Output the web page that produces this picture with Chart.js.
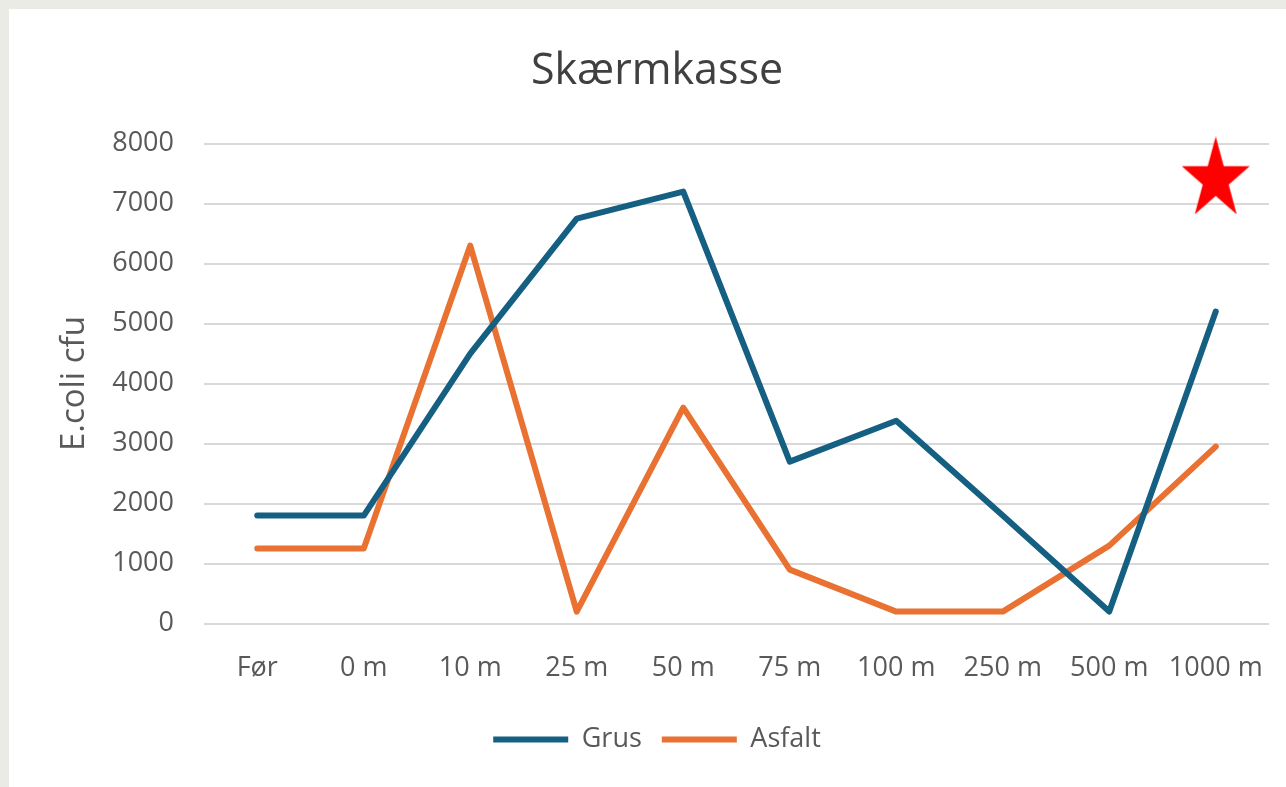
<!DOCTYPE html>
<html>
<head>
<meta charset="utf-8">
<script src="https://cdn.jsdelivr.net/npm/chart.js@4.4.1/dist/chart.umd.min.js"></script>
<style>
    html, body { margin: 0; padding: 0; background: #ebebe6; }
    #wrap { position: absolute; left: 9px; top: 9px; width: 1277px; height: 778px; background: #ffffff; }
</style>
</head>
<body>
<div id="wrap"><canvas id="skaermChart" width="1277" height="778"></canvas></div>
<script>
// =============================================
// DATA
// =============================================
const categories = ['Før', '0 m', '10 m', '25 m', '50 m', '75 m', '100 m', '250 m', '500 m', '1000 m'];
const grusValues = [1800, 1800, 4500, 6750, 7200, 2700, 3380, 1800, 200, 5200];
const asfaltValues = [1250, 1250, 6300, 200, 3600, 900, 200, 200, 1300, 2950];
const starMarker = [null, null, null, null, null, null, null, null, null, 7470];
const yTicks = [0, 1000, 2000, 3000, 4000, 5000, 6000, 7000, 8000];

// Filled red star used as point style (slightly taller than wide, like the picture)
function makeStar() {
    const w = 68, h = 78;
    const c = document.createElement('canvas');
    c.width = w;
    c.height = h;
    const g = c.getContext('2d');
    const rx = 35.75, ry = 43.1;
    const cx = w / 2, cy = ry;
    g.fillStyle = '#ff0000';
    g.beginPath();
    for (let i = 0; i < 10; i++) {
        const k = i % 2 === 0 ? 1 : 0.382;
        const a = -Math.PI / 2 + i * Math.PI / 5;
        const px = cx + rx * k * Math.cos(a);
        const py = cy + ry * k * Math.sin(a);
        if (i === 0) g.moveTo(px, py); else g.lineTo(px, py);
    }
    g.closePath();
    g.fill();
    return c;
}

const fontFamily = "'Open Sans', 'Noto Sans', sans-serif";
const textColor = '#595959';

new Chart(document.getElementById('skaermChart'), {
    type: 'line',
    data: {
        labels: categories,
        datasets: [
            {
                label: 'Grus',
                data: grusValues,
                borderColor: '#156082',
                backgroundColor: '#156082',
                borderWidth: 6,
                borderCapStyle: 'round',
                borderJoinStyle: 'round',
                tension: 0,
                pointRadius: 0
            },
            {
                label: 'Asfalt',
                data: asfaltValues,
                borderColor: '#e97132',
                backgroundColor: '#e97132',
                borderWidth: 6,
                borderCapStyle: 'round',
                borderJoinStyle: 'round',
                tension: 0,
                pointRadius: 0
            },
            {
                label: 'star',
                data: starMarker,
                showLine: false,
                clip: false, // star pokes above the 8000 line
                pointStyle: makeStar(),
                pointRadius: 30
            }
        ]
    },
    options: {
        responsive: false,
        animation: false,
        layout: {
            autoPadding: false,
            padding: { left: 36, right: 17, top: 0, bottom: 24 }
        },
        plugins: {
            title: {
                display: true,
                text: 'Skærmkasse',
                color: '#404040',
                font: { family: fontFamily, size: 43, weight: 'normal' },
                padding: { top: 37, bottom: 46 }
            },
            legend: {
                display: true,
                position: 'bottom',
                labels: {
                    usePointStyle: true,
                    pointStyle: 'line',
                    pointStyleWidth: 75,
                    boxHeight: 6,
                    padding: 20,
                    color: textColor,
                    font: { family: fontFamily, size: 27 },
                    filter: item => item.text !== 'star'
                }
            },
            tooltip: { enabled: false }
        },
        scales: {
            x: {
                offset: true,
                grid: { display: false },
                border: { display: false },
                ticks: {
                    color: textColor,
                    padding: 21,
                    maxRotation: 0,
                    autoSkip: false,
                    font: { family: fontFamily, size: 27 }
                }
            },
            y: {
                min: 0,
                max: 8000,
                afterBuildTicks: axis => { axis.ticks = yTicks.map(v => ({ value: v })); },
                // fixed axis width so the plot starts where the picture's does
                afterFit: axis => { axis.width = 159; },
                grid: { color: '#d9d9d9', lineWidth: 2, drawTicks: false },
                border: { display: false },
                title: {
                    display: true,
                    text: 'E.coli cfu',
                    color: textColor,
                    font: { family: fontFamily, size: 33 },
                    padding: { top: 10, bottom: 0 }
                },
                ticks: {
                    color: textColor,
                    padding: 30,
                    font: { family: fontFamily, size: 27 },
                    callback: v => String(v)
                }
            }
        }
    }
});
</script>
</body>
</html>
